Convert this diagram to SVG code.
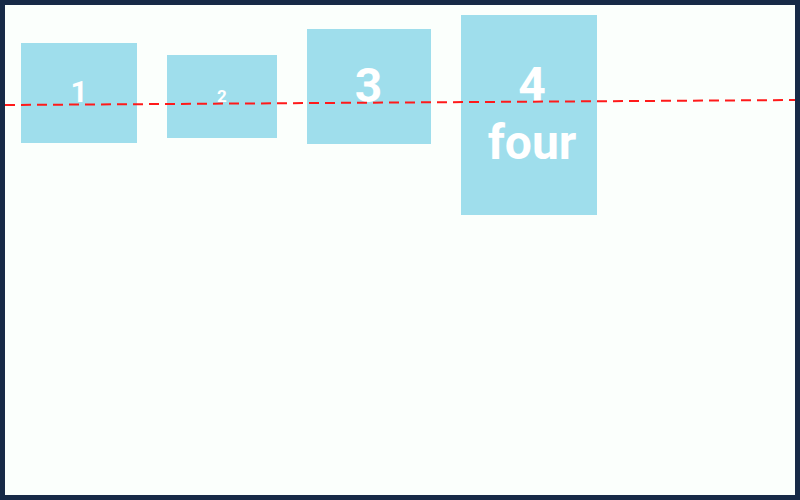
<svg xmlns="http://www.w3.org/2000/svg" width="800" height="500" viewBox="0 0 800 500">
<style>
.box{fill:#9fdeec}
.t{font-family:Roboto,"Liberation Sans",sans-serif;font-weight:bold;fill:#ffffff;text-anchor:middle}
.base{stroke:#ff1a1a;stroke-width:2;stroke-dasharray:10 6;fill:none}
</style>
<rect x="0" y="0" width="800" height="500" fill="#172a47"/>
<rect x="5" y="5" width="790" height="490" fill="#fbfffc"/>
<g id="node1"><rect class="box" x="21" y="43" width="116" height="100"/><text class="t" x="79" y="102" font-size="30">1</text></g>
<g id="node2"><rect class="box" x="167" y="55" width="110" height="83"/><text class="t" x="222" y="102" font-size="17">2</text></g>
<g id="node3"><rect class="box" x="307" y="29" width="124" height="115"/><text class="t" x="368.5" y="102" font-size="48">3</text></g>
<g id="node4"><rect class="box" x="461" y="15" width="136" height="200"/><text class="t" x="532" y="101" font-size="48">4</text><text class="t" x="532" y="159" font-size="48">four</text></g>
<g id="connectors"><line class="base" x1="5" y1="105" x2="795" y2="100"/></g>
</svg>
